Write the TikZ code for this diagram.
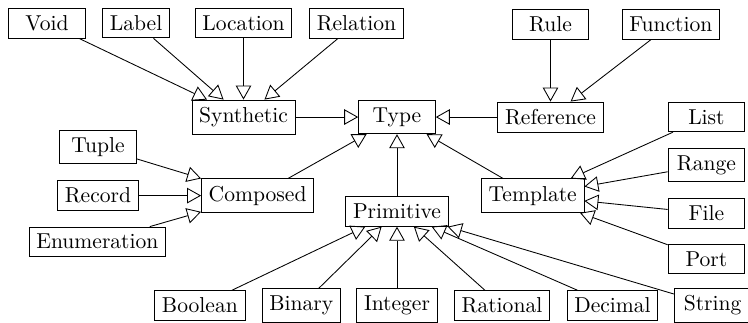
\documentclass[tikz,border=0pt]{standalone}
\usetikzlibrary{arrows.meta}
\begin{document}
\begin{tikzpicture}[
        typebox/.style={draw, rectangle, minimum width=1.25cm},
        extends/.style={-{Triangle[open, length=6.5pt, width=7.2pt]}}
    ]
        \useasboundingbox (-6.466,-3.339) rectangle (5.717,1.906);

        \node[typebox] (type) at (0,0) {Type};
        \node[typebox] (synthetic) at (-2.5,0) {Synthetic};
        \node[typebox] (reference) at (2.5,0) {Reference};
        \node[typebox] (composed) at (-2.27,-1.28) {Composed};
        \node[typebox] (template) at (2.21,-1.28) {Template};
        \node[typebox] (primitive) at (0,-1.54) {Primitive};

        \node[typebox] (void) at (-5.7,1.53) {Void};
        \node[typebox, minimum width=1.1cm] (label) at (-4.25,1.53) {Label};
        \node[typebox] (location) at (-2.5,1.53) {Location};
        \node[typebox] (relation) at (-0.66,1.53) {Relation};
        \node[typebox] (rule) at (2.5,1.51) {Rule};
        \node[typebox] (function) at (4.46,1.51) {Function};

        \node[typebox] (tuple) at (-4.87,-0.49) {Tuple};
        \node[typebox] (record) at (-4.87,-1.28) {Record};
        \node[typebox] (enumeration) at (-4.88,-2.03) {Enumeration};

        \node[typebox] (list) at (5.04,0) {List};
        \node[typebox] (range) at (5.04,-0.78) {Range};
        \node[typebox] (file) at (5.04,-1.57) {File};
        \node[typebox] (port) at (5.04,-2.31) {Port};

        \node[typebox] (boolean) at (-3.21,-3.07) {Boolean};
        \node[typebox] (binary) at (-1.56,-3.07) {Binary};
        \node[typebox] (integer) at (0,-3.07) {Integer};
        \node[typebox] (rational) at (1.71,-3.07) {Rational};
        \node[typebox] (decimal) at (3.51,-3.07) {Decimal};
        \node[typebox] (string) at (5.14,-3.07) {String};

        % main hierarchy
        \draw[extends] (synthetic) -- (type);
        \draw[extends] (reference) -- (type);
        \draw[extends] (composed) -- (type);
        \draw[extends] (template) -- (type);
        \draw[extends] (primitive) -- (type);

        % synthetic and reference kinds
        \draw[extends] (void) -- (synthetic);
        \draw[extends] (label) -- (synthetic);
        \draw[extends] (location) -- (synthetic);
        \draw[extends] (relation) -- (synthetic);
        \draw[extends] (rule) -- (reference);
        \draw[extends] (function) -- (reference);

        % composed and template kinds
        \draw[extends] (tuple) -- (composed);
        \draw[extends] (record) -- (composed);
        \draw[extends] (enumeration) -- (composed);
        \draw[extends] (list) -- (template);
        \draw[extends] (range) -- (template);
        \draw[extends] (file) -- (template);
        \draw[extends] (port) -- (template);

        % primitive kinds
        \draw[extends] (boolean) -- (primitive);
        \draw[extends] (binary) -- (primitive);
        \draw[extends] (integer) -- (primitive);
        \draw[extends] (rational) -- (primitive);
        \draw[extends] (decimal) -- (primitive);
        \draw[extends] (string) -- (primitive);
    \end{tikzpicture}
\end{document}
